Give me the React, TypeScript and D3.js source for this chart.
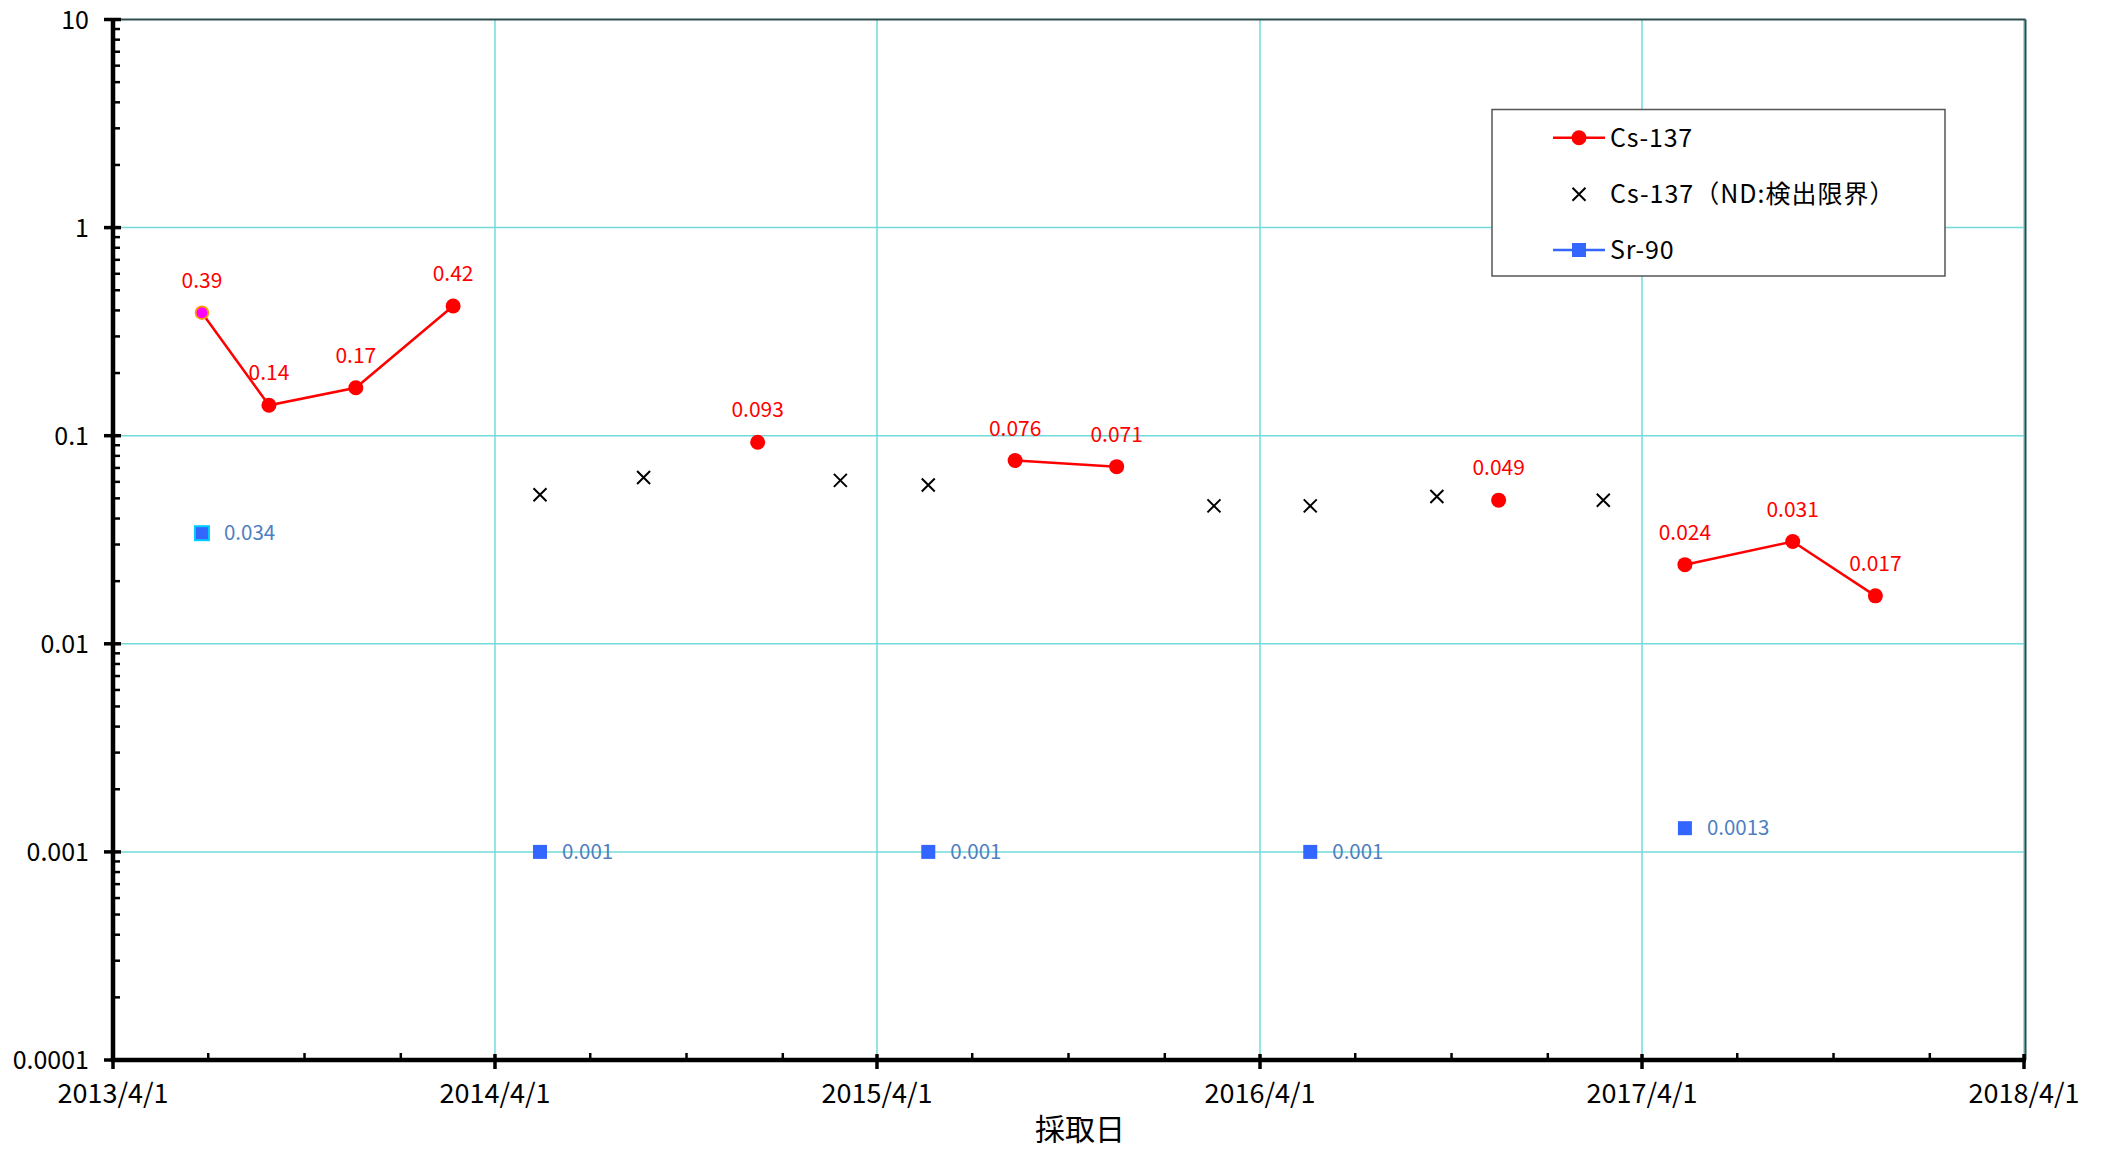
import React from "react";
import * as d3 from "d3";

const cs137Dates = ["2013-06-25","2013-08-28","2013-11-19","2014-02-20","2014-05-14","2014-08-21","2014-12-08","2015-02-25","2015-05-20","2015-08-11","2015-11-16","2016-02-17","2016-05-19","2016-09-17","2016-11-15","2017-02-23","2017-05-12","2017-08-23","2017-11-10"];
const cs137Values: (number | null)[] = [0.39,0.14,0.17,0.42,null,null,0.093,null,null,0.076,0.071,null,null,null,0.049,null,0.024,0.031,0.017];
const cs137ND: (number | null)[] = [null,null,null,null,0.052,0.063,null,0.061,0.058,null,null,0.046,0.046,0.051,null,0.049,null,null,null];
const sr90Dates = ["2013-06-25","2014-05-14","2015-05-20","2016-05-19","2017-05-12"];
const sr90Values = [0.034,0.001,0.001,0.001,0.0013];
const sr90Labels = ["0.034","0.001","0.001","0.001","0.0013"];
const yTickValues = [10,1,0.1,0.01,0.001,0.0001];
const yTickLabels = ["10","1","0.1","0.01","0.001","0.0001"];
const xTickLabels = ["2013/4/1","2014/4/1","2015/4/1","2016/4/1","2017/4/1","2018/4/1"];
const legendLabels = ["Cs-137","Cs-137（ND:検出限界）","Sr-90"];
const xTitle = "採取日";

const W = 2107, H = 1150;
const L = 113, R = 2024, T = 19.5, B = 1060;
const FONT = "'Noto Sans CJK JP', 'Noto Sans', sans-serif";
const GRID = "#74D9D9";

const parse = (s: string) => new Date(s + "T00:00:00");

export default function App() {
  const x = d3.scaleTime().domain([parse("2013-04-01"), parse("2018-04-01")]).range([L, R]);
  const y = d3.scaleLog().domain([0.0001, 10]).range([B, T]);

  const yearTicks = xTickLabels.map((_, i) => new Date(2013 + i, 3, 1));
  const quarterTicks: Date[] = [];
  for (let yr = 2013; yr < 2018; yr++) {
    [6, 9, 12].forEach((m) => quarterTicks.push(new Date(yr + Math.floor(m / 12), m % 12, 1)));
  }
  const minorY: number[] = [];
  for (let e = -4; e < 1; e++) {
    for (let k = 2; k <= 9; k++) minorY.push(k * Math.pow(10, e));
  }

  const csPts = cs137Dates.map((d, i) => ({ d: parse(d), v: cs137Values[i] }));
  const line = d3
    .line<{ d: Date; v: number | null }>()
    .defined((p) => p.v != null)
    .x((p) => x(p.d))
    .y((p) => y(p.v as number));

  return (
    <svg width={W} height={H} style={{ position: "absolute", left: 0, top: 0, background: "#fff" }} fontFamily={FONT}>
      <rect x={0} y={0} width={W} height={H} fill="#fff" />
      {/* gridlines */}
      {yTickValues.slice(1, 5).map((v, i) => (
        <line key={"gy" + i} x1={L} x2={R} y1={y(v)} y2={y(v)} stroke={GRID} strokeWidth={1.5} />
      ))}
      {yearTicks.slice(1).map((d, i) => (
        <line key={"gx" + i} x1={x(d)} x2={x(d)} y1={T} y2={B} stroke={GRID} strokeWidth={1.5} />
      ))}
      {/* plot border top/right */}
      <line x1={L} x2={R + 1.5} y1={T} y2={T} stroke="#2F4F4F" strokeWidth={2} />
      <line x1={R + 1.5} x2={R + 1.5} y1={T} y2={B} stroke="#2F4F4F" strokeWidth={2} />

      {/* y axis */}
      <line x1={L} x2={L} y1={T - 1} y2={B + 2} stroke="#000" strokeWidth={4.5} />
      {yTickValues.map((v, i) => (
        <g key={"yt" + i}>
          <line x1={L - 9} x2={L + 8} y1={y(v)} y2={y(v)} stroke="#000" strokeWidth={3.5} />
          <text x={89} y={y(v) + 9} textAnchor="end" fontSize={25} fill="#000">
            {yTickLabels[i]}
          </text>
        </g>
      ))}
      {minorY.map((v, i) => (
        <line key={"ym" + i} x1={L} x2={L + 7} y1={y(v)} y2={y(v)} stroke="#000" strokeWidth={2.5} />
      ))}

      {/* x axis */}
      <line x1={L - 2} x2={R + 2} y1={B} y2={B} stroke="#000" strokeWidth={4.5} />
      {yearTicks.map((d, i) => (
        <g key={"xt" + i}>
          <line x1={x(d)} x2={x(d)} y1={B - 6} y2={B + 9} stroke="#000" strokeWidth={3.5} />
          <text x={x(d)} y={1103} textAnchor="middle" fontSize={27} fill="#000">
            {xTickLabels[i]}
          </text>
        </g>
      ))}
      {quarterTicks.map((d, i) => (
        <line key={"xm" + i} x1={x(d)} x2={x(d)} y1={B - 7} y2={B} stroke="#000" strokeWidth={2.5} />
      ))}
      <text x={1080} y={1140} textAnchor="middle" fontSize={30} fill="#000">
        {xTitle}
      </text>

      {/* Cs-137 line */}
      <path d={line(csPts) || ""} fill="none" stroke="#FF0000" strokeWidth={2.5} />
      {csPts.map((p, i) =>
        p.v == null ? null : (
          <g key={"cs" + i}>
            {i === 0 ? (
              <circle cx={x(p.d)} cy={y(p.v)} r={6.3} fill="#FF00FF" stroke="#FF9900" strokeWidth={1.8} />
            ) : (
              <circle cx={x(p.d)} cy={y(p.v)} r={7.5} fill="#FF0000" />
            )}
            <text x={x(p.d)} y={y(p.v) - 25} textAnchor="middle" fontSize={21} fill="#FF0000">
              {String(p.v)}
            </text>
          </g>
        )
      )}

      {/* ND markers */}
      {cs137Dates.map((ds, i) => {
        const v = cs137ND[i];
        if (v == null) return null;
        const cx = x(parse(ds));
        const cy = y(v);
        const s = 6.5;
        return (
          <path key={"nd" + i} d={`M${cx - s},${cy - s}L${cx + s},${cy + s}M${cx - s},${cy + s}L${cx + s},${cy - s}`} stroke="#000" strokeWidth={2} fill="none" />
        );
      })}

      {/* Sr-90 */}
      {sr90Dates.map((ds, i) => {
        const cx = x(parse(ds));
        const cy = y(sr90Values[i]);
        return (
          <g key={"sr" + i}>
            <rect x={cx - 7} y={cy - 7} width={14} height={14} fill="#3366FF" stroke={i === 0 ? "#00CCFF" : "none"} strokeWidth={2} />
            <text x={cx + 22} y={cy + 7} fontSize={20.5} fill="#4F7FBF">
              {sr90Labels[i]}
            </text>
          </g>
        );
      })}

      {/* legend */}
      <rect x={1492} y={109.5} width={453} height={166.5} fill="#fff" stroke="#555" strokeWidth={1.5} />
      <line x1={1553} x2={1605} y1={137.7} y2={137.7} stroke="#FF0000" strokeWidth={2.5} />
      <circle cx={1579} cy={137.7} r={7.5} fill="#FF0000" />
      <text x={1610} y={146.5} fontSize={25} letterSpacing={0.8} fill="#000">{legendLabels[0]}</text>
      <path d={`M${1572.5},${187.8}L${1585.5},${200.8}M${1572.5},${200.8}L${1585.5},${187.8}`} stroke="#000" strokeWidth={2} />
      <text x={1610} y={203} fontSize={25} letterSpacing={1} fill="#000">{legendLabels[1]}</text>
      <line x1={1553} x2={1605} y1={250} y2={250} stroke="#3366FF" strokeWidth={2.5} />
      <rect x={1572} y={243} width={14} height={14} fill="#3366FF" />
      <text x={1610} y={259} fontSize={25} letterSpacing={0.8} fill="#000">{legendLabels[2]}</text>
    </svg>
  );
}
